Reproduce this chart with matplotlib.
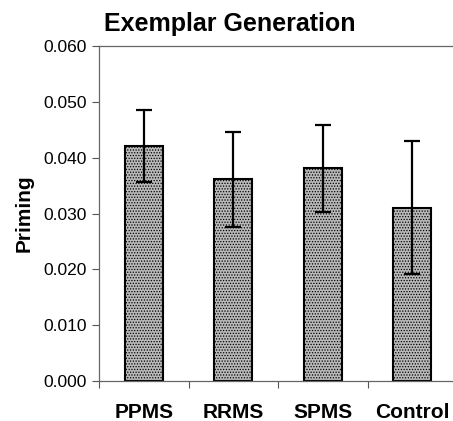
import matplotlib.pyplot as plt
import numpy as np

# values
groups = ["PPMS", "RRMS", "SPMS", "Control"]
priming = [0.0421, 0.0361, 0.0381, 0.0310]
sem = [0.0065, 0.0085, 0.0078, 0.0119]
yticks = [0.000, 0.010, 0.020, 0.030, 0.040, 0.050, 0.060]

plt.rcParams['font.family'] = ['Liberation Sans', 'DejaVu Sans']
plt.rcParams['hatch.color'] = '#7a7a7a'
plt.rcParams['hatch.linewidth'] = 0.6

fig = plt.figure(figsize=(4.53, 4.21), dpi=100)
# axes run slightly past the right edge, as in the reference
ax = fig.add_axes([99 / 453, 40 / 421, 358 / 453, 335 / 421])

x = np.arange(len(groups))
ax.bar(x, priming, width=0.42, color='#b9b9b9', edgecolor='black',
       linewidth=1.5, hatch='......', zorder=2)
ax.errorbar(x, priming, yerr=sem, fmt='none', ecolor='black',
            elinewidth=1.6, capsize=6, capthick=1.6, zorder=3)

ax.set_xlim(-0.5, len(groups) - 0.5)
ax.set_ylim(0, 0.060)
ax.set_yticks(yticks)
ax.set_yticklabels([f"{v:.3f}" for v in yticks], fontsize=12.5)

# category boundary ticks, labels centred under bars
ax.set_xticks(np.arange(-0.5, len(groups), 1.0))
ax.set_xticklabels([])
ax.set_xticks(x, minor=True)
ax.set_xticklabels(groups, minor=True, fontsize=15, fontweight='bold')
ax.tick_params(axis='x', which='minor', length=0, pad=16)
ax.tick_params(axis='x', which='major', length=5, width=0.8, color='#555555')
ax.tick_params(axis='y', length=5, width=0.8, color='#555555', pad=4)

for side in ['left', 'bottom', 'top']:
    ax.spines[side].set_color('#666666')
    ax.spines[side].set_linewidth(0.9)
ax.spines['right'].set_visible(False)

ax.set_ylabel("Priming", fontsize=15, fontweight='bold', labelpad=7)
fig.text(104 / 453, 1 - 12 / 421, "Exemplar Generation", fontsize=18,
         fontweight='bold', ha='left', va='top')

plt.savefig("out.png", dpi=100)
